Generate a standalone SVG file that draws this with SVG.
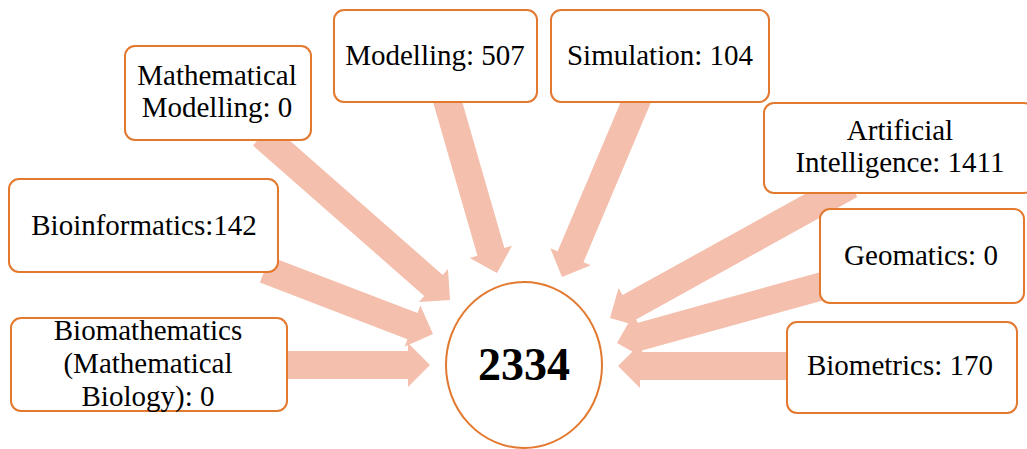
<svg xmlns="http://www.w3.org/2000/svg" width="1027" height="449" viewBox="0 0 1027 449">
<style>
.box{fill:#fff;stroke:#E2792F;stroke-width:2}
.arr{fill:#F4BFAC}
.t{font-family:"Liberation Serif","Times New Roman",serif;font-size:29px;fill:#000;text-anchor:middle}
.big{font-family:"Liberation Serif","Times New Roman",serif;font-size:46px;font-weight:bold;fill:#000;text-anchor:middle}
</style>
<rect width="1027" height="449" fill="#fff"/>
<g id="connectors" class="arr">
<polygon transform="translate(450,300) rotate(41.3)" points="-250,-14 -22,-14 -22,-22 0,0 -22,22 -22,14 -250,14"/>
<polygon transform="translate(433,334) rotate(21)" points="-180,-14 -22,-14 -22,-22 0,0 -22,22 -22,14 -180,14"/>
<polygon transform="translate(430,365)" points="-150,-14 -22,-14 -22,-22 0,0 -22,22 -22,14 -150,14"/>
<polygon transform="translate(497,273) rotate(73.9)" points="-185,-14 -22,-14 -22,-22 0,0 -22,22 -22,14 -185,14"/>
<polygon transform="translate(562,277) rotate(112.9)" points="-198,-14 -22,-14 -22,-22 0,0 -22,22 -22,14 -198,14"/>
<polygon transform="translate(610,318) rotate(151)" points="-275,-14 -22,-14 -22,-22 0,0 -22,22 -22,14 -275,14"/>
<polygon transform="translate(617,343) rotate(164.5)" points="-222,-14 -22,-14 -22,-22 0,0 -22,22 -22,14 -222,14"/>
<polygon transform="translate(618,366) rotate(180)" points="-180,-14 -22,-14 -22,-22 0,0 -22,22 -22,14 -180,14"/>
</g>
<g id="n-mathmod"><rect class="box" x="125" y="46" width="186" height="94" rx="10"/><text class="t" x="217" y="85">Mathematical</text><text class="t" x="217" y="117">Modelling: 0</text></g>
<g id="n-modelling"><rect class="box" x="334" y="10" width="203" height="92" rx="10"/><text class="t" x="435" y="65">Modelling: 507</text></g>
<g id="n-simulation"><rect class="box" x="551" y="10" width="218" height="92" rx="10"/><text class="t" x="660" y="65">Simulation: 104</text></g>
<g id="n-ai"><rect class="box" x="764" y="103" width="270" height="90" rx="10"/><text class="t" x="900" y="140">Artificial</text><text class="t" x="900" y="172">Intelligence: 1411</text></g>
<g id="n-geomatics"><rect class="box" x="820" y="209" width="204" height="94" rx="10"/><text class="t" x="921" y="265">Geomatics: 0</text></g>
<g id="n-biometrics"><rect class="box" x="787" y="322" width="230" height="91" rx="10"/><text class="t" x="900" y="375">Biometrics: 170</text></g>
<g id="n-bioinfo"><rect class="box" x="9" y="179" width="269" height="93" rx="10"/><text class="t" x="144" y="235">Bioinformatics:142</text></g>
<g id="n-biomath"><rect class="box" x="11" y="318" width="276" height="93" rx="10"/><text class="t" x="148" y="340">Biomathematics</text><text class="t" x="148" y="373">(Mathematical</text><text class="t" x="148" y="406">Biology): 0</text></g>
<g id="n-center"><ellipse class="box" cx="524" cy="365" rx="78" ry="83"/><text class="big" x="524" y="380">2334</text></g>
</svg>
